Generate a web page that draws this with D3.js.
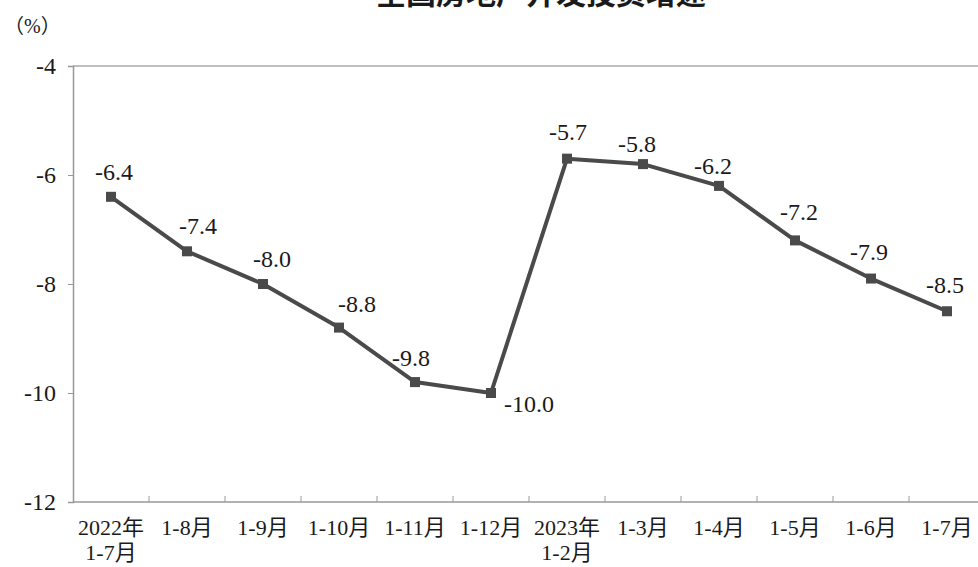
<!DOCTYPE html>
<html>
<head>
<meta charset="utf-8">
<script src="https://cdn.jsdelivr.net/npm/d3@7"></script>
<style>
  body { margin: 0; background: #fff; }
  svg { display: block; }
  text { font-family: "Liberation Serif", "Noto Sans CJK SC", serif; fill: #1a1a1a; }
</style>
</head>
<body>
<div id="chart"></div>
<script>
// data
const periods = ["2022年\n1-7月", "1-8月", "1-9月", "1-10月", "1-11月", "1-12月",
                 "2023年\n1-2月", "1-3月", "1-4月", "1-5月", "1-6月", "1-7月"];
const growth = [-6.4, -7.4, -8.0, -8.8, -9.8, -10.0, -5.7, -5.8, -6.2, -7.2, -7.9, -8.5];
const yTicks = [-4, -6, -8, -10, -12];

// small label nudges so numbers sit like in the original
const labelDx = [3, 11, 9, 18, -4, 38, 1, -6, -6, 4, -2, -2];
const labelDy = [-17, -17, -17, -16, -16, 19, -19, -12, -12, -20, -19, -18];

const WIDTH = 978, HEIGHT = 567;
const MARGIN = {TOP: 66, LEFT: 73, BOTTOM: 502};
const BAND = 76;

// plain hyphen instead of d3's unicode minus
const fmt1 = v => d3.format(".1f")(v).replace("−", "-");
const fmt0 = v => d3.format("d")(v).replace("−", "-");

const svg = d3.select("#chart").append("svg")
  .attr("width", WIDTH)
  .attr("height", HEIGHT);

const x = d3.scaleBand()
  .domain(periods)
  .range([MARGIN.LEFT, MARGIN.LEFT + BAND * periods.length])
  .padding(0);

const y = d3.scaleLinear()
  .domain([-12, -4])
  .range([MARGIN.BOTTOM, MARGIN.TOP]);

// title (cut off at top edge in the original)
svg.append("text")
  .attr("x", 541)
  .attr("y", 4)
  .attr("text-anchor", "middle")
  .attr("font-size", "30px")
  .attr("font-weight", "bold")
  .style("font-family", "'Noto Sans CJK SC', sans-serif")
  .text("全国房地产开发投资增速");

svg.append("text")
  .attr("x", 4)
  .attr("y", 33)
  .attr("font-size", "20px")
  .text("（%）");

// frame: top line
svg.append("line")
  .attr("x1", MARGIN.LEFT).attr("x2", WIDTH)
  .attr("y1", MARGIN.TOP).attr("y2", MARGIN.TOP)
  .attr("stroke", "#aaa")
  .attr("stroke-width", 1.5);

// y axis
const yAxis = svg.append("g")
  .attr("transform", `translate(${MARGIN.LEFT},0)`)
  .call(d3.axisLeft(y).tickValues(yTicks).tickSize(5).tickPadding(12).tickFormat(fmt0));
yAxis.select(".domain").attr("stroke", "#999").attr("stroke-width", 1.5);
yAxis.selectAll(".tick line").attr("stroke", "#999");
yAxis.selectAll("text")
  .attr("font-size", "24px")
  .style("font-family", "'Liberation Serif', serif")
  .attr("fill", "#1a1a1a");

// x axis with ticks at category boundaries pointing up
svg.append("line")
  .attr("x1", MARGIN.LEFT).attr("x2", WIDTH)
  .attr("y1", MARGIN.BOTTOM).attr("y2", MARGIN.BOTTOM)
  .attr("stroke", "#999")
  .attr("stroke-width", 1.5);

svg.selectAll(".xtick")
  .data(periods.slice(1))
  .enter()
  .append("line")
  .attr("class", "xtick")
  .attr("x1", d => x(d)).attr("x2", d => x(d))
  .attr("y1", MARGIN.BOTTOM).attr("y2", MARGIN.BOTTOM - 6)
  .attr("stroke", "#999");

const xl = svg.selectAll(".xlab")
  .data(periods)
  .enter()
  .append("text")
  .attr("class", "xlab")
  .attr("text-anchor", "middle")
  .attr("font-size", "22px");
xl.each(function(d) {
  const cx = x(d) + x.bandwidth() / 2;
  d.split("\n").forEach((part, i) => {
    d3.select(this).append("tspan")
      .attr("x", cx)
      .attr("y", 535 + i * 25)
      .text(part);
  });
});

// line and markers
const pts = periods.map((p, i) => ({p: p, v: growth[i], i: i}));

svg.append("path")
  .datum(pts)
  .attr("fill", "none")
  .attr("stroke", "#4a4a4a")
  .attr("stroke-width", 4)
  .attr("stroke-linejoin", "round")
  .attr("d", d3.line()
    .x(d => x(d.p) + x.bandwidth() / 2)
    .y(d => y(d.v)));

const size = 10;
svg.selectAll(".mark")
  .data(pts)
  .enter()
  .append("rect")
  .attr("class", "mark")
  .attr("x", d => x(d.p) + x.bandwidth() / 2 - size / 2)
  .attr("y", d => y(d.v) - size / 2)
  .attr("width", size)
  .attr("height", size)
  .attr("fill", "#4a4a4a");

svg.selectAll(".vlab")
  .data(pts)
  .enter()
  .append("text")
  .attr("class", "vlab")
  .attr("text-anchor", "middle")
  .attr("font-size", "24px")
  .attr("x", d => x(d.p) + x.bandwidth() / 2 + labelDx[d.i])
  .attr("y", d => y(d.v) + labelDy[d.i])
  .text(d => fmt1(d.v));
</script>
</body>
</html>
